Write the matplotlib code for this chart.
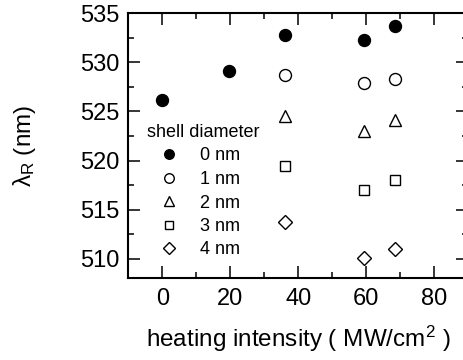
import matplotlib
matplotlib.use('Agg')
import matplotlib.pyplot as plt
from matplotlib.ticker import MultipleLocator

plt.rcParams['font.family'] = ['Liberation Sans', 'DejaVu Sans']
plt.rcParams['mathtext.fontset'] = 'custom'
plt.rcParams['mathtext.rm'] = 'Liberation Sans'
plt.rcParams['mathtext.it'] = 'Liberation Sans'

# heating intensity (MW/cm^2) and resonance wavelength (nm) per shell diameter
x_0nm = [0, 19.7, 36.1, 59.4, 68.6]
y_0nm = [526.2, 529.1, 532.8, 532.3, 533.7]
x_shell = [36.1, 59.4, 68.6]
y_1nm = [528.7, 527.9, 528.3]
y_2nm = [524.5, 523.0, 524.1]
y_3nm = [519.4, 517.0, 518.0]
y_4nm = [513.7, 510.1, 511.0]
labels = ['0 nm', '1 nm', '2 nm', '3 nm', '4 nm']

fig = plt.figure(figsize=(4.64, 3.6), dpi=100)
ax = fig.add_axes([128.3 / 464, 1 - 278.3 / 360, (468 - 128.3) / 464, (278.3 - 13.3) / 360])

ax.plot(x_0nm, y_0nm, 'o', ms=8.6, mfc='black', mec='black', label=labels[0])
ax.plot(x_shell, y_1nm, 'o', ms=8.6, mfc='white', mec='black', mew=1.0, label=labels[1])
ax.plot(x_shell, y_2nm, '^', ms=8.6, mfc='white', mec='black', mew=1.0, label=labels[2])
ax.plot(x_shell, y_3nm, 's', ms=7.2, mfc='white', mec='black', mew=1.0, label=labels[3])
ax.plot(x_shell, y_4nm, 'D', ms=7.1, mfc='white', mec='black', mew=1.0, label=labels[4])

ax.set_xlim(-10, 90)
ax.set_ylim(508, 535)
ax.xaxis.set_major_locator(MultipleLocator(20))
ax.xaxis.set_minor_locator(MultipleLocator(10))
ax.yaxis.set_major_locator(MultipleLocator(5))
ax.yaxis.set_minor_locator(MultipleLocator(2.5))
ax.tick_params(which='both', direction='in', top=True, right=True, width=1.1, labelsize=17)
ax.tick_params(which='major', length=8.6)
ax.tick_params(which='minor', length=4.3)
ax.tick_params(axis='x', pad=7)
ax.tick_params(axis='y', pad=6)
for s in ax.spines.values():
    s.set_linewidth(1.5)

ax.set_xlabel('heating intensity ( MW/cm$^2$ )', fontsize=17.5, labelpad=10)
ax.set_ylabel('λ$_\\mathrm{R}$ (nm)', fontsize=17.5, labelpad=31)

leg = ax.legend(title='shell diameter', loc='upper left', frameon=False,
                bbox_to_anchor=(147 / 464, 1 - 124 / 360), bbox_transform=fig.transFigure,
                fontsize=13, title_fontsize=13, alignment='left', borderpad=0,
                borderaxespad=0, handlelength=2.4, handletextpad=0.52,
                labelspacing=0.36, markerscale=0.8)

plt.savefig('out.png', dpi=100)
